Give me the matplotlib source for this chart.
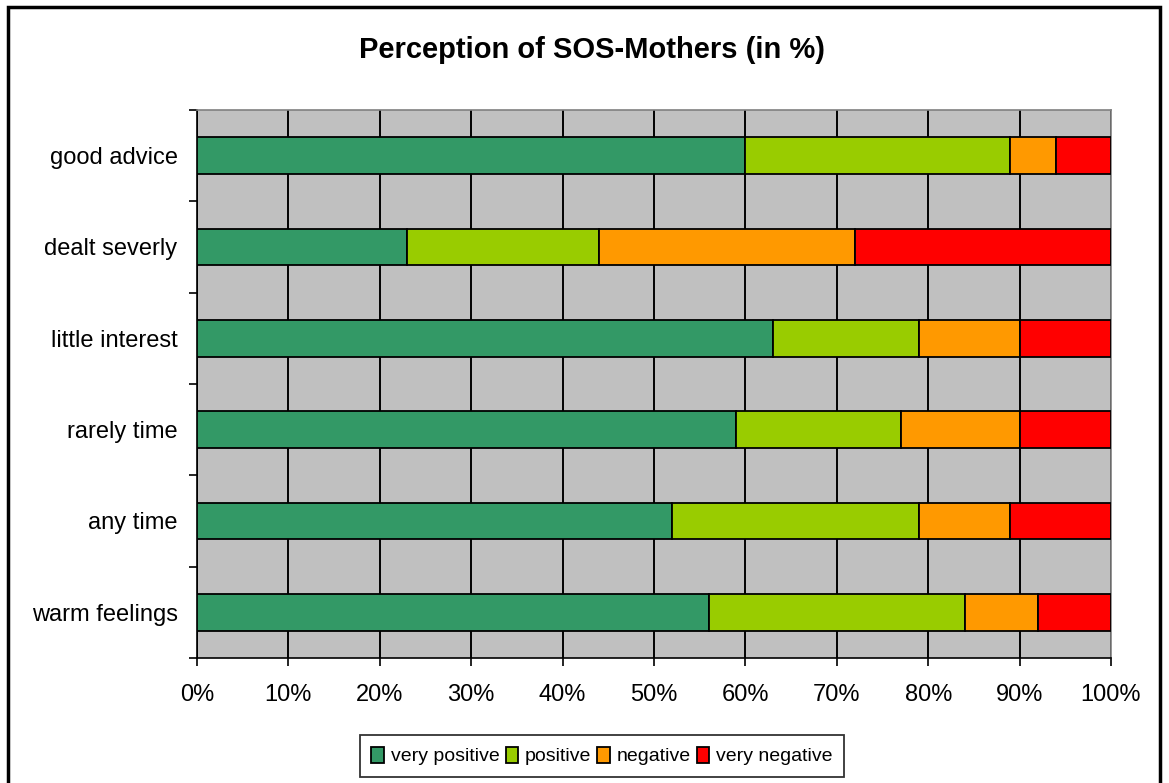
import numpy as np
import matplotlib.pyplot as plt
from matplotlib.patches import Rectangle

plt.rcParams['font.family'] = ['Liberation Sans', 'DejaVu Sans']

categories = ['warm feelings', 'any time', 'rarely time', 'little interest', 'dealt severly', 'good advice']
very_positive = [56, 52, 59, 63, 23, 60]
positive = [28, 27, 18, 16, 21, 29]
negative = [8, 10, 13, 11, 28, 5]
very_negative = [8, 11, 10, 10, 28, 6]

series = [('very positive', very_positive, '#339966'),
          ('positive', positive, '#99CC00'),
          ('negative', negative, '#FF9900'),
          ('very negative', very_negative, '#FF0000')]

fig = plt.figure(figsize=(11.69, 7.83), dpi=100)
ax = fig.add_axes([197/1169, 125/783, 914/1169, 548/783])
ax.set_facecolor('#C0C0C0')

y = np.arange(len(categories))
left = np.zeros(len(categories))
for name, vals, col in series:
    vals = np.array(vals, dtype=float)
    ax.barh(y, vals, left=left, height=0.4, color=col, edgecolor='black',
            linewidth=1.3, label=name, zorder=3)
    left += vals

ax.set_xlim(0, 100)
ax.set_ylim(-0.5, len(categories) - 0.5)
ax.set_xticks(np.arange(0, 101, 10))
ax.set_xticklabels([f'{v}%' for v in range(0, 101, 10)], fontsize=17)
ax.set_yticks(y)
ax.set_yticklabels(categories, fontsize=17)
ax.tick_params(axis='y', length=0, pad=14)
ax.set_yticks(np.arange(-0.5, len(categories), 1), minor=True)
ax.tick_params(axis='y', which='minor', length=6, width=1.2, color='black')
ax.tick_params(axis='x', length=6, width=1.2, pad=13)
ax.xaxis.grid(True, color='black', linewidth=1.4, zorder=1)
ax.set_axisbelow(True)
for s in ['top', 'right']:
    ax.spines[s].set_color('#808080')
    ax.spines[s].set_linewidth(1.2)
for s in ['left', 'bottom']:
    ax.spines[s].set_color('black')
    ax.spines[s].set_linewidth(1.2)

fig.text(592/1169, 1 - 50/783, 'Perception of SOS-Mothers (in %)', ha='center', va='center',
         fontsize=21, fontweight='bold')

leg = fig.legend(loc='center', bbox_to_anchor=(602/1169, 1 - 756/783), ncol=4, fontsize=14,
                 frameon=True, fancybox=False, edgecolor='black', handlelength=0.65,
                 handleheight=0.9, handletextpad=0.35, columnspacing=0.3, borderpad=0.6,
                 borderaxespad=0)
leg.get_frame().set_linewidth(1.3)

fig.patches.append(Rectangle((8/1169, -0.05), 1152/1169, 1.05 - 7/783, transform=fig.transFigure,
                             fill=False, edgecolor='black', linewidth=2.5))

fig.savefig('out.png', dpi=100)
